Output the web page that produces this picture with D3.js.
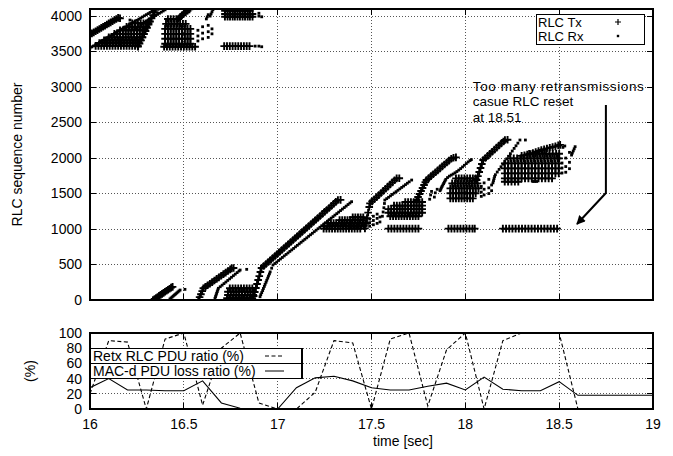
<!DOCTYPE html>
<html><head><meta charset="utf-8">
<script src="https://cdn.jsdelivr.net/npm/d3@7"></script>
<style>
html,body{margin:0;padding:0;background:#fff;}
svg{display:block;font-family:"Liberation Sans",Arial,Helvetica,sans-serif;}
</style></head><body>
<svg id="chart" width="673" height="456"></svg>
<script>
// ---------- tick values ----------
const timeTicks = [16, 16.5, 17, 17.5, 18, 18.5, 19];
const seqTicks = [0, 500, 1000, 1500, 2000, 2500, 3000, 3500, 4000];
const pctTicks = [0, 20, 40, 60, 80, 100];

// ---------- RLC Tx (+) : streaks of [time, seq] ----------
const txStreaks = [
  [[16.00,3740],[16.01,3756],[16.02,3771],[16.03,3787],[16.04,3803],[16.05,3818],[16.06,3834],[16.07,3850],[16.08,3865],[16.09,3881],[16.10,3897],[16.11,3912],[16.12,3928],[16.13,3944],[16.14,3959],[16.15,3975],[16.16,3970]],
  [[16.256,3570],[16.264,3614],[16.272,3658],[16.28,3703],[16.288,3747],[16.296,3791],[16.304,3835],[16.312,3880],[16.32,3924],[16.328,3968],[16.336,4012],[16.344,4056],[16.35,4090]],
  [[16.47,3960],[16.48,3985],[16.49,4010],[16.50,4035],[16.51,4055],[16.52,4075],[16.53,4095]],
  [[16.336,0],[16.344,14],[16.352,29],[16.36,43],[16.368,58],[16.376,72],[16.384,87],[16.392,101],[16.40,116],[16.408,130],[16.416,145],[16.424,159],[16.432,174],[16.44,185]],
  [[16.577,0],[16.584,40],[16.591,82],[16.598,125],[16.604,165],[16.615,185],[16.627,207],[16.639,230],[16.651,252],[16.663,274],[16.675,297],[16.687,319],[16.699,342],[16.711,364],[16.723,386],[16.735,409],[16.747,431],[16.755,446],[16.765,450]],
  [[16.866,0],[16.872,56],[16.878,112],[16.884,169],[16.89,225],[16.896,281],[16.902,337],[16.908,394],[16.914,450],[16.926,478],[16.938,507],[16.95,535],[16.962,563],[16.974,591],[16.986,619],[16.998,648],[17.01,676],[17.022,704],[17.034,732],[17.046,761],[17.058,789],[17.07,817],[17.082,845],[17.094,874],[17.106,902],[17.118,930],[17.13,958],[17.142,987],[17.154,1015],[17.166,1043],[17.178,1071],[17.19,1100],[17.202,1128],[17.214,1156],[17.226,1184],[17.238,1213],[17.25,1241],[17.262,1269],[17.274,1297],[17.286,1326],[17.298,1354],[17.31,1382],[17.321,1408],[17.335,1410]],
  [[17.465,1009],[17.47,1074],[17.476,1153],[17.482,1231],[17.488,1310],[17.492,1362],[17.503,1389],[17.515,1419],[17.527,1449],[17.539,1478],[17.551,1508],[17.563,1538],[17.575,1568],[17.587,1597],[17.599,1627],[17.611,1657],[17.623,1687],[17.634,1714],[17.648,1716]],
  [[17.74,1408],[17.748,1451],[17.756,1493],[17.764,1536],[17.772,1578],[17.78,1621],[17.787,1658],[17.793,1690],[17.805,1717],[17.817,1745],[17.829,1772],[17.841,1800],[17.853,1827],[17.865,1855],[17.877,1882],[17.889,1909],[17.901,1937],[17.913,1964],[17.925,1991],[17.937,2005],[17.95,2010]],
  [[18.06,1690],[18.067,1746],[18.074,1803],[18.081,1859],[18.088,1916],[18.095,1972],[18.107,2001],[18.119,2030],[18.131,2059],[18.143,2089],[18.155,2118],[18.167,2147],[18.179,2176],[18.191,2205],[18.203,2234],[18.211,2254],[18.225,2258]],
  [[18.30,2030],[18.315,2040],[18.33,2048],[18.345,2058],[18.36,2070],[18.375,2085],[18.39,2100],[18.405,2113],[18.42,2125],[18.435,2135],[18.45,2145],[18.465,2155],[18.48,2165],[18.495,2178],[18.505,2185]]
];

// ---------- RLC Tx (+) : retransmission rows [seq, [times]] ----------
const txRows = [
  [3580,[16.03,16.045,16.06,16.075,16.09,16.105,16.12,16.135,16.15,16.165,16.18,16.195,16.21,16.225,16.24,16.255]],
  [3620,[16.05,16.065,16.08,16.095,16.11,16.125,16.14,16.155,16.17,16.185,16.2,16.215,16.23,16.245,16.26]],
  [3660,[16.075,16.09,16.105,16.12,16.135,16.15,16.165,16.18,16.195,16.21,16.225,16.24,16.255,16.268]],
  [3700,[16.10,16.115,16.13,16.145,16.16,16.175,16.19,16.205,16.22,16.235,16.25,16.265,16.278]],
  [3750,[16.13,16.145,16.16,16.175,16.19,16.205,16.22,16.235,16.25,16.265,16.28]],
  [3800,[16.16,16.175,16.19,16.205,16.22,16.235,16.25,16.265,16.28,16.293]],
  [3850,[16.195,16.21,16.225,16.24,16.255,16.27,16.285,16.30]],
  [3900,[16.225,16.24,16.255,16.27,16.285,16.30,16.312]],
  [3960,[16.415,16.43,16.445,16.46]],
  [3890,[16.405,16.42,16.435,16.45,16.465,16.48,16.495,16.51]],
  [3820,[16.40,16.415,16.43,16.445,16.46,16.475,16.49,16.505,16.52,16.535]],
  [3750,[16.40,16.415,16.43,16.445,16.46,16.475,16.49,16.505,16.52,16.535]],
  [3680,[16.40,16.415,16.43,16.445,16.46,16.475,16.49,16.505,16.52,16.535]],
  [3610,[16.40,16.415,16.43,16.445,16.46,16.475,16.49,16.505,16.52,16.535]],
  [3568,[16.395,16.41,16.425,16.44,16.455,16.47,16.485,16.50,16.515,16.53,16.545,16.56]],
  [4075,[16.719,16.733,16.746,16.76,16.772,16.786,16.799,16.813,16.826,16.84,16.852]],
  [4030,[16.719,16.733,16.746,16.76,16.772,16.786,16.799,16.813,16.826,16.84,16.852,16.866]],
  [3990,[16.719,16.733,16.746,16.76,16.772,16.786,16.799,16.813,16.826,16.84,16.852,16.866]],
  [3577,[16.715,16.73,16.745,16.76,16.775,16.79,16.805,16.82,16.835,16.85]],
  [165,[16.745,16.76,16.775,16.79,16.805,16.82,16.835,16.85,16.865]],
  [117,[16.735,16.75,16.765,16.78,16.795,16.81,16.825,16.84,16.855,16.87]],
  [70,[16.735,16.75,16.765,16.78,16.795,16.81,16.825,16.84,16.855,16.87]],
  [24,[16.73,16.745,16.76,16.775,16.79,16.805,16.82,16.835,16.85,16.865]],
  [1005,[17.245,17.26,17.275,17.29,17.305,17.32,17.335,17.35,17.365,17.38,17.395,17.41,17.425,17.44]],
  [1045,[17.25,17.264,17.278,17.292,17.306,17.32,17.334,17.348,17.362,17.376,17.39,17.404,17.418,17.432,17.446,17.46]],
  [1085,[17.27,17.284,17.298,17.312,17.326,17.34,17.354,17.368,17.382,17.396,17.41,17.424,17.438,17.452,17.466]],
  [1125,[17.33,17.344,17.358,17.372,17.386,17.40,17.414,17.428,17.442,17.456]],
  [1165,[17.40,17.414,17.428,17.442,17.456]],
  [1180,[17.60,17.615,17.63,17.645,17.66,17.675,17.69,17.705,17.72,17.735,17.75]],
  [1230,[17.59,17.605,17.62,17.635,17.65,17.665,17.68,17.695,17.71,17.725,17.74,17.755,17.77]],
  [1280,[17.59,17.605,17.62,17.635,17.65,17.665,17.68,17.695,17.71,17.725,17.74,17.755,17.77]],
  [1330,[17.62,17.635,17.65,17.665,17.68,17.695,17.71,17.725,17.74,17.755,17.77]],
  [1380,[17.68,17.695,17.71,17.725,17.74,17.755,17.77]],
  [1005,[17.59,17.606,17.622,17.638,17.654,17.67,17.686,17.702,17.718,17.734,17.75]],
  [1714,[17.95,17.965,17.98,17.995,18.01,18.025,18.04,18.055]],
  [1643,[17.93,17.945,17.96,17.975,17.99,18.005,18.02,18.035,18.05,18.065]],
  [1573,[17.92,17.935,17.95,17.965,17.98,17.995,18.01,18.025,18.04,18.055,18.07]],
  [1503,[17.92,17.935,17.95,17.965,17.98,17.995,18.01,18.025,18.04,18.055]],
  [1432,[17.92,17.935,17.95,17.965,17.98,17.995,18.01,18.025,18.04]],
  [1005,[17.91,17.926,17.942,17.958,17.974,17.99,18.006,18.022,18.038,18.05]],
  [2060,[18.34,18.358,18.376,18.394,18.412,18.43,18.448,18.466,18.484,18.50]],
  [1996,[18.24,18.258,18.276,18.294,18.312,18.33,18.348,18.366,18.384,18.402,18.42,18.438,18.456,18.474,18.492,18.50]],
  [1925,[18.21,18.228,18.246,18.264,18.282,18.30,18.318,18.336,18.354,18.372,18.39,18.408,18.426,18.444,18.462,18.48,18.498]],
  [1855,[18.21,18.228,18.246,18.264,18.282,18.30,18.318,18.336,18.354,18.372,18.39,18.408,18.426,18.444,18.462,18.48,18.498]],
  [1784,[18.21,18.228,18.246,18.264,18.282,18.30,18.318,18.336,18.354,18.372,18.39,18.408,18.426,18.444,18.462,18.48,18.498]],
  [1714,[18.21,18.228,18.246,18.264,18.282,18.30,18.318,18.336,18.354,18.372,18.39,18.408,18.426,18.444,18.462]],
  [1666,[18.21,18.228,18.246,18.264,18.282]],
  [1005,[18.20,18.217,18.234,18.251,18.268,18.285,18.302,18.319,18.336,18.353,18.37,18.387,18.404,18.421,18.438,18.455,18.472,18.489]]
];

// ---------- RLC Rx (.) : streaks of [time, seq] ----------
const rxStreaks = [
  [[16.00,3550],[16.01,3566],[16.02,3581],[16.03,3597],[16.04,3613],[16.05,3628],[16.06,3644],[16.07,3660],[16.08,3675],[16.09,3691],[16.10,3707],[16.11,3722],[16.12,3738],[16.13,3753],[16.14,3769],[16.15,3785],[16.16,3800],[16.17,3816],[16.18,3832],[16.19,3847],[16.20,3863],[16.21,3879],[16.22,3894],[16.23,3910],[16.24,3926],[16.25,3941],[16.26,3957],[16.27,3973],[16.28,3988],[16.29,4004],[16.30,4020],[16.31,4035],[16.32,4051],[16.33,4066],[16.34,4082]],
  [[16.27,3880],[16.28,3896],[16.29,3912],[16.30,3928],[16.31,3944],[16.32,3960],[16.33,3976],[16.34,3992],[16.35,4008],[16.36,4024],[16.37,4040],[16.38,4056],[16.39,4072],[16.40,4088]],
  [[16.426,15],[16.432,29],[16.438,43],[16.444,57],[16.45,71],[16.456,84],[16.462,98],[16.468,112],[16.474,126],[16.48,140],[16.506,150]],
  [[16.666,24],[16.669,48],[16.672,71],[16.675,95],[16.678,118],[16.681,142],[16.684,165],[16.694,187],[16.704,209],[16.714,231],[16.724,253],[16.734,276],[16.744,298],[16.754,320],[16.764,342],[16.774,364],[16.784,386],[16.794,408],[16.80,422],[16.835,432]],
  [[16.906,46],[16.91,75],[16.915,104],[16.92,133],[16.924,162],[16.929,192],[16.933,221],[16.938,250],[16.942,279],[16.947,308],[16.951,338],[16.956,367],[16.96,396],[16.968,448],[16.975,493],[16.985,514],[16.995,535],[17.005,557],[17.015,578],[17.025,599],[17.035,621],[17.045,642],[17.055,663],[17.065,685],[17.075,706],[17.085,727],[17.095,749],[17.105,770],[17.115,791],[17.125,813],[17.135,834],[17.145,855],[17.155,876],[17.165,898],[17.175,919],[17.185,940],[17.195,962],[17.205,983],[17.215,1004],[17.225,1025],[17.235,1047],[17.245,1068],[17.255,1089],[17.265,1110],[17.275,1132],[17.285,1153],[17.295,1174],[17.305,1196],[17.315,1217],[17.325,1238],[17.335,1260],[17.345,1281],[17.355,1302],[17.365,1323],[17.375,1345],[17.385,1366],[17.394,1385]],
  [[17.558,1180],[17.562,1240],[17.566,1300],[17.569,1360],[17.571,1408],[17.581,1428],[17.591,1447],[17.601,1467],[17.611,1487],[17.621,1507],[17.631,1526],[17.641,1546],[17.651,1566],[17.661,1586],[17.671,1605],[17.681,1625],[17.691,1645],[17.701,1665],[17.714,1690]],
  [[17.865,1540],[17.869,1560],[17.872,1580],[17.876,1600],[17.88,1620],[17.884,1640],[17.888,1660],[17.892,1680],[17.896,1700],[17.905,1725],[17.915,1745],[17.925,1760],[17.935,1775],[17.945,1792],[17.955,1810],[17.965,1830],[17.975,1852],[17.985,1875],[17.995,1898],[18.005,1922],[18.015,1945],[18.025,1965],[18.032,1978]],
  [[18.147,1650],[18.15,1680],[18.153,1710],[18.156,1740],[18.16,1765],[18.17,1803],[18.18,1840],[18.19,1877],[18.20,1914],[18.21,1951],[18.22,1988],[18.23,2025],[18.24,2062],[18.25,2099],[18.26,2136],[18.27,2173],[18.28,2210],[18.291,2254],[18.32,2254]],
  [[18.566,2042],[18.57,2070],[18.575,2100],[18.58,2130],[18.585,2160]]
];

// ---------- RLC Rx (.) : scattered dots ----------
const rxDots = [
  [16.213,3944],[16.575,3650],[16.575,3720],[16.575,3800],[16.60,3680],[16.60,3760],[16.60,3850],[16.63,3700],[16.63,3780],[16.63,3870],[16.65,3750],[16.65,3820],
  [16.62,3960],[16.625,3990],[16.63,4020],[16.64,4000],[16.645,4030],[16.65,4060],[16.655,4090],
  [16.88,3577],[16.90,3577],[16.915,3568],[16.915,3990],[16.90,4040],[16.90,4000],
  [17.49,1040],[17.49,1090],[17.49,1140],[17.51,1060],[17.51,1120],[17.51,1180],[17.53,1080],[17.53,1150],[17.53,1210],[17.545,1100],[17.545,1170],
  [17.81,1420],[17.815,1480],[17.82,1530],[17.835,1450],[17.84,1510],[17.85,1560],
  [18.085,1460],[18.085,1520],[18.085,1600],[18.10,1480],[18.10,1560],[18.10,1650],[18.125,1500],[18.125,1580],[18.125,1700],[18.14,1540],[18.14,1620],
  [18.515,1790],[18.515,1860],[18.515,1930],[18.535,1800],[18.535,1880],[18.535,2000],[18.555,1850],[18.555,1940],[18.555,2080],[18.52,2150],[18.53,2170],
  [18.36,1670],[18.37,1670],[18.38,1670]
];

// ---------- lower panel series (every 0.1 s) ----------
const retxTimes = [16.0,16.1,16.2,16.3,16.4,16.5,16.6,16.7,16.8,16.9,17.0,17.1,17.2,17.3,17.4,17.5,17.6,17.7,17.8,17.9,18.0,18.1,18.2,18.3,18.4,18.5,18.6];
const retxRatio = [20,90,88,0,92,100,5,80,100,8,0,0,22,90,87,0,92,100,4,78,100,0,90,100,100,100,0];
const macTimes = [16.0,16.1,16.2,16.3,16.4,16.5,16.6,16.7,16.8,16.9,17.0,17.1,17.2,17.3,17.4,17.5,17.6,17.7,17.8,17.9,18.0,18.1,18.2,18.3,18.4,18.5,18.6,18.7,18.8,18.9,19.0];
const macLoss = [28,40,25,25,24,24,37,8,1,0,0,28,41,43,37,28,25,25,30,34,25,42,26,24,24,36,18,18,18,18,18];

// ---------- annotation ----------
const noteLines = ["Too many retransmissions", "casue RLC reset", "at 18.51"];
const noteAnchor = [18.04, 2945];
const arrowPath = [[18.749,2746],[18.749,1507],[18.595,1070]];

// ================= drawing =================
const svg = d3.select("#chart");
const W = 673, H = 456;
const x = d3.scaleLinear().domain([16,19]).range([90,653]);
const yTop = d3.scaleLinear().domain([0,4100]).range([300,9]);
const yBot = d3.scaleLinear().domain([0,100]).range([409,333]);
const FS = 14;
const gridCol = "#555";

svg.append("rect").attr("width",W).attr("height",H).attr("fill","#fff");

const defs = svg.append("defs");
defs.append("clipPath").attr("id","clipTop").append("rect")
  .attr("x",x(16)).attr("y",yTop(4100)).attr("width",x(19)-x(16)).attr("height",yTop(0)-yTop(4100));
defs.append("clipPath").attr("id","clipBot").append("rect")
  .attr("x",x(16)).attr("y",yBot(100)).attr("width",x(19)-x(16)).attr("height",yBot(0)-yBot(100));
defs.append("marker").attr("id","ah").attr("viewBox","0 0 10 10").attr("refX",9).attr("refY",5)
  .attr("markerWidth",7).attr("markerHeight",4.5).attr("orient","auto").attr("markerUnits","strokeWidth")
  .append("path").attr("d","M0,0L10,5L0,10z").attr("fill","#000");

function panel(y, yTicks) {
  const g = svg.append("g");
  const [y0, y1] = y.range();
  const grid = g.append("g").attr("stroke",gridCol).attr("stroke-dasharray","1,2").attr("shape-rendering","crispEdges");
  yTicks.filter(v => v !== y.domain()[0] && y(v) > y1 + 1).forEach(v => {
    grid.append("line").attr("x1",x(16)).attr("x2",x(19)).attr("y1",y(v)).attr("y2",y(v));
  });
  timeTicks.filter(t => t > 16 && t < 19).forEach(t => {
    grid.append("line").attr("x1",x(t)).attr("x2",x(t)).attr("y1",y0).attr("y2",y1);
  });
  return g;
}
function frame(y, yTicks, showXLabels) {
  const g = svg.append("g");
  const [y0, y1] = y.range();
  const top = Math.min(y0,y1), bot = Math.max(y0,y1);
  g.append("rect").attr("x",x(16)).attr("y",top).attr("width",x(19)-x(16)).attr("height",bot-top)
    .attr("fill","none").attr("stroke","#000").attr("stroke-width",1.3).attr("shape-rendering","crispEdges");
  const tk = g.append("g").attr("stroke","#000").attr("stroke-width",1).attr("shape-rendering","crispEdges");
  yTicks.forEach(v => {
    tk.append("line").attr("x1",x(16)).attr("x2",x(16)+6).attr("y1",y(v)).attr("y2",y(v));
    tk.append("line").attr("x1",x(19)).attr("x2",x(19)-6).attr("y1",y(v)).attr("y2",y(v));
    g.append("text").attr("x",x(16)-8).attr("y",y(v)).attr("dy","0.35em").attr("text-anchor","end")
      .attr("font-size",FS).text(v);
  });
  timeTicks.forEach(t => {
    tk.append("line").attr("x1",x(t)).attr("x2",x(t)).attr("y1",bot).attr("y2",bot-6);
    tk.append("line").attr("x1",x(t)).attr("x2",x(t)).attr("y1",top).attr("y2",top+6);
    if (showXLabels) g.append("text").attr("x",x(t)).attr("y",bot+20).attr("text-anchor","middle")
      .attr("font-size",FS).text(t);
  });
}

// ---- top panel ----
panel(yTop, seqTicks);
const txPts = txStreaks.flat().concat(txRows.flatMap(([s, ts]) => ts.map(t => [t, s])));
const rxPts = rxStreaks.flat().concat(rxDots);
const pts = svg.append("g").attr("clip-path","url(#clipTop)");
pts.append("g").selectAll("rect").data(rxPts).join("rect")
  .attr("x",d => x(d[0]) - 1.4).attr("y",d => yTop(d[1]) - 1.4).attr("width",2.8).attr("height",2.8).attr("fill","#000");
pts.append("g").attr("stroke","#000").attr("stroke-width",1.9).attr("fill","none")
  .selectAll("path").data(txPts).join("path")
  .attr("d",d => `M${x(d[0])-3.8},${yTop(d[1])}h7.6M${x(d[0])},${yTop(d[1])-3.8}v7.6`);
frame(yTop, seqTicks, false);

// top legend
const LFS = 13;
const lg = svg.append("g");
lg.append("rect").attr("x",536).attr("y",14).attr("width",108).attr("height",30)
  .attr("fill","#fff").attr("stroke","#000").attr("stroke-width",1).attr("shape-rendering","crispEdges");
lg.append("text").attr("x",538).attr("y",26.5).attr("font-size",LFS).text("RLC Tx");
lg.append("text").attr("x",538).attr("y",40.5).attr("font-size",LFS).text("RLC Rx");
lg.append("path").attr("d","M615,22h6M618,19v6").attr("stroke","#000").attr("stroke-width",1.2);
lg.append("rect").attr("x",616.8).attr("y",34.8).attr("width",2.4).attr("height",2.4).attr("fill","#000");

// annotation
const NFS = 13.5;
const note = svg.append("g");
noteLines.forEach((s,i) => note.append("text").attr("x",x(noteAnchor[0])).attr("y",yTop(noteAnchor[1]) + i*15.5)
  .attr("font-size",NFS).attr("textLength", i === 0 ? 171 : null).text(s));
note.append("path").attr("d",d3.line().x(d => x(d[0])).y(d => yTop(d[1]))(arrowPath))
  .attr("fill","none").attr("stroke","#000").attr("stroke-width",2).attr("marker-end","url(#ah)");

// ---- bottom panel ----
panel(yBot, pctTicks);
const lines = svg.append("g").attr("clip-path","url(#clipBot)").attr("fill","none").attr("stroke","#000");
lines.append("path").attr("d", d3.line().x((d,i) => x(retxTimes[i])).y(d => yBot(d))(retxRatio))
  .attr("stroke-width",1.1).attr("stroke-dasharray","4,2.5");
lines.append("path").attr("d", d3.line().x((d,i) => x(macTimes[i])).y(d => yBot(d))(macLoss))
  .attr("stroke-width",1.1);

// bottom legend (opaque)
const bl = svg.append("g");
bl.append("rect").attr("x",x(16)).attr("y",yBot(80)).attr("width",212).attr("height",yBot(40)-yBot(80))
  .attr("fill","#fff").attr("stroke","#000").attr("stroke-width",1.2).attr("shape-rendering","crispEdges");
bl.append("line").attr("x1",x(16)).attr("x2",x(16)+212).attr("y1",yBot(60)).attr("y2",yBot(60))
  .attr("stroke","#000").attr("stroke-width",1.2).attr("shape-rendering","crispEdges");
bl.append("text").attr("x",x(16)+3).attr("y",yBot(60)-2.5).attr("font-size",FS).text("Retx RLC PDU ratio (%)");
bl.append("text").attr("x",x(16)+3).attr("y",yBot(40)-2.5).attr("font-size",FS).text("MAC-d PDU loss ratio (%)");
bl.append("line").attr("x1",265).attr("x2",284).attr("y1",356).attr("y2",356).attr("stroke","#000").attr("stroke-dasharray","4,2.5");
bl.append("line").attr("x1",265).attr("x2",284).attr("y1",371).attr("y2",371).attr("stroke","#000");

frame(yBot, pctTicks, true);

// axis titles
svg.append("text").attr("transform",`translate(22,${(yTop(0)+yTop(4100))/2}) rotate(-90)`)
  .attr("text-anchor","middle").attr("font-size",FS).text("RLC sequence number");
svg.append("text").attr("transform",`translate(35,${(yBot(0)+yBot(100))/2}) rotate(-90)`)
  .attr("text-anchor","middle").attr("font-size",FS).text("(%)");
svg.append("text").attr("x",403).attr("y",446).attr("text-anchor","middle").attr("font-size",FS).text("time [sec]");
</script>
</body></html>
